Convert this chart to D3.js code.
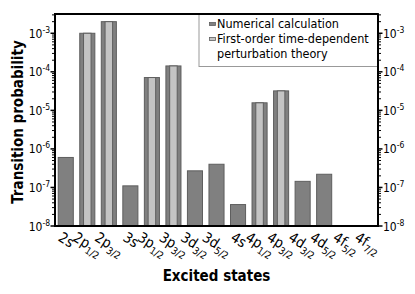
<!DOCTYPE html>
<html><head><meta charset="utf-8">
<script src="https://cdn.jsdelivr.net/npm/d3@7"></script>
<style>body{margin:0;background:#fff}svg{display:block}</style>
</head><body>
<svg id="c" width="415" height="294"></svg>
<script>
const stateBase = ["2s","2p","2p","3s","3p","3p","3d","3d","4s","4p","4p","4d","4d","4f","4f"];
const stateSub  = ["","1/2","3/2","","1/2","3/2","3/2","5/2","","1/2","3/2","3/2","5/2","5/2","7/2"];
const numerical = [6.0e-7,1.0e-3,2.0e-3,1.1e-7,7.1e-5,1.42e-4,2.7e-7,4.0e-7,3.6e-8,1.57e-5,3.2e-5,1.44e-7,2.2e-7,null,null];
const firstOrder = [null,1.0e-3,2.0e-3,null,7.1e-5,1.42e-4,null,null,null,1.57e-5,3.2e-5,null,null,null,null];
const yTickExp = [-3,-4,-5,-6,-7,-8];
const seriesNames = ["Numerical calculation", ["First-order time-dependent","perturbation theory"]];

const svg = d3.select("#c");
const L=55,R=378,T=14,B=226;
const F="'DejaVu Sans Condensed', 'DejaVu Sans', sans-serif";
const idx = d3.range(stateBase.length);
const x = d3.scaleBand().domain(idx).range([L,R]).paddingInner(0.3).paddingOuter(0.15);
const y = d3.scaleLog().domain([1e-8, Math.pow(10,-2.5)]).range([B,T]);

// bars
const g = svg.append("g");
g.selectAll("rect.n").data(idx.filter(i=>numerical[i]!=null)).enter().append("rect")
  .attr("x",i=>x(i)).attr("width",x.bandwidth())
  .attr("y",i=>y(numerical[i])).attr("height",i=>B-y(numerical[i]))
  .attr("fill","#808080").attr("stroke","#5e5e5e").attr("stroke-width",1);
const lw = x.bandwidth()*0.5;
g.selectAll("rect.f").data(idx.filter(i=>firstOrder[i]!=null)).enter().append("rect")
  .attr("x",i=>x(i)+(x.bandwidth()-lw)/2).attr("width",lw)
  .attr("y",i=>y(firstOrder[i])).attr("height",i=>B-y(firstOrder[i]))
  .attr("fill","#c4c4c4").attr("stroke","#5e5e5e").attr("stroke-width",1);

// log ticks
const minor=[];
for(let e=-8;e<-2;e++){for(let k=2;k<=9;k++){const v=k*Math.pow(10,e); if(v<=Math.pow(10,-2.5)) minor.push(v);}}
function axisTicks(x0,dir){
  const a=svg.append("g");
  minor.forEach(v=>a.append("line").attr("x1",x0).attr("x2",x0+dir*3).attr("y1",y(v)).attr("y2",y(v)).attr("stroke","#000").attr("stroke-width",1));
  yTickExp.forEach(e=>a.append("line").attr("x1",x0).attr("x2",x0+dir*4.5).attr("y1",y(Math.pow(10,e))).attr("y2",y(Math.pow(10,e))).attr("stroke","#000").attr("stroke-width",1.5));
  yTickExp.forEach(e=>{
    const t=a.append("text").attr("y",y(Math.pow(10,e))+4.5).attr("font-family",F).attr("font-size",12).attr("fill","#000");
    if(dir<0){t.attr("x",x0-5).attr("text-anchor","end");} else {t.attr("x",x0+5);}
    t.append("tspan").text("10");
    t.append("tspan").attr("dy",-5).attr("font-size",8.5).text("-"+Math.abs(e));
  });
}
axisTicks(L,-1); axisTicks(R,1);

// frame
svg.append("rect").attr("x",L).attr("y",T).attr("width",R-L).attr("height",B-T).attr("fill","none").attr("stroke","#000").attr("stroke-width",2);

// x labels
const ang=32, rad=ang*Math.PI/180;
const xl=svg.append("g");
idx.forEach(i=>{
  const t=xl.append("text").attr("font-family",F).attr("font-size",14.5).attr("fill","#000");
  t.append("tspan").text(stateBase[i]);
  if(stateSub[i]) t.append("tspan").attr("dy",4).attr("font-size",10).text(stateSub[i]);
  const len=t.node().getComputedTextLength();
  const cx=x(i)+x.bandwidth()/2;
  const sx=cx-len/2*Math.cos(rad)-2;
  t.attr("transform","translate("+sx+",240) rotate("+ang+")");
});

// titles
svg.append("text").attr("x",(L+R)/2).attr("y",281).attr("text-anchor","middle").attr("font-family",F).attr("font-weight","bold").attr("font-size",15).text("Excited states");
svg.append("text").attr("transform","translate(23,"+((T+B)/2+2)+") rotate(-90)").attr("text-anchor","middle").attr("font-family",F).attr("font-weight","bold").attr("font-size",15).text("Transition probability");

// legend
const lg=svg.append("g");
lg.append("rect").attr("x",199).attr("y",T).attr("width",R-199).attr("height",66.5-T).attr("fill","#fff").attr("stroke","#999").attr("stroke-width",1);
lg.append("rect").attr("x",209.5).attr("y",22.5).attr("width",6).attr("height",3).attr("fill","#808080").attr("stroke","#5e5e5e").attr("stroke-width",0.8);
lg.append("rect").attr("x",209.5).attr("y",37.5).attr("width",6).attr("height",3).attr("fill","#c4c4c4").attr("stroke","#5e5e5e").attr("stroke-width",0.8);
lg.append("text").attr("x",217).attr("y",28).attr("font-family",F).attr("font-size",12.5).text(seriesNames[0]);
lg.append("text").attr("x",217).attr("y",43).attr("font-family",F).attr("font-size",12.5).text(seriesNames[1][0]);
lg.append("text").attr("x",217).attr("y",58).attr("font-family",F).attr("font-size",12.5).text(seriesNames[1][1]);
svg.append("line").attr("x1",L).attr("x2",R).attr("y1",T).attr("y2",T).attr("stroke","#000").attr("stroke-width",2);
svg.append("line").attr("x1",R).attr("x2",R).attr("y1",T).attr("y2",B).attr("stroke","#000").attr("stroke-width",2);
</script>
</body></html>
